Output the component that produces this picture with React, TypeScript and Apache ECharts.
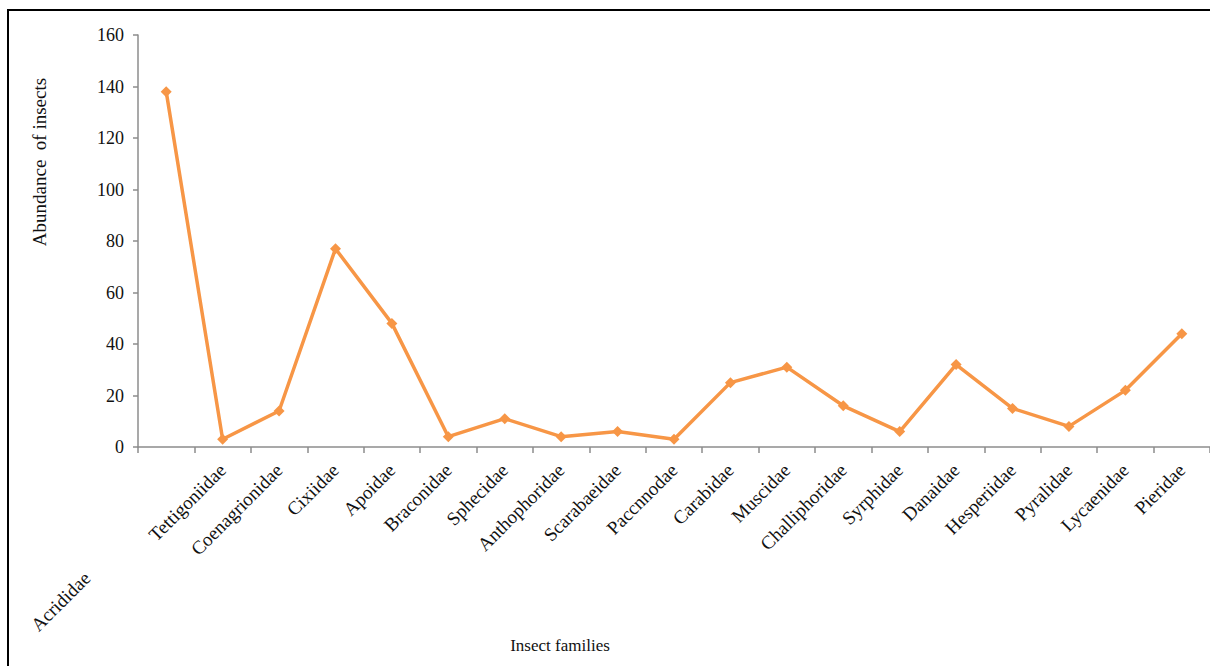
import React, { useEffect, useRef } from "react";
import * as echarts from "echarts";

const families = [
  "Acrididae",
  "Tettigoniidae",
  "Coenagrionidae",
  "Cixiidae",
  "Apoidae",
  "Braconidae",
  "Sphecidae",
  "Anthophoridae",
  "Scarabaeidae",
  "Paccnnodae",
  "Carabidae",
  "Muscidae",
  "Challiphoridae",
  "Syrphidae",
  "Danaidae",
  "Hesperiidae",
  "Pyralidae",
  "Lycaenidae",
  "Pieridae",
];

const abundance = [138, 3, 14, 77, 48, 4, 11, 4, 6, 3, 25, 31, 16, 6, 32, 15, 8, 22, 44];

const yTicks = { min: 0, max: 160, interval: 20 };

const FONT = "Liberation Serif";

export default function App() {
  const ref = useRef<HTMLDivElement>(null);

  useEffect(() => {
    if (!ref.current) return;
    const chart = echarts.init(ref.current, undefined, { renderer: "svg" });
    chart.setOption({
      animation: false,
      backgroundColor: "#ffffff",
      grid: { left: 138, top: 35, width: 1076, height: 412, containLabel: false },
      xAxis: {
        type: "category",
        data: families,
        boundaryGap: true,
        axisLine: { lineStyle: { color: "#8c8c8c", width: 1.5 } },
        axisTick: { show: true, length: 6, alignWithLabel: false, lineStyle: { color: "#8c8c8c", width: 1.5 } },
        axisLabel: {
          interval: 0,
          rotate: 45,
          margin: 20,
          fontFamily: FONT,
          fontSize: 19,
          color: "#111",
          formatter: (v: string, i: number) => (i === 0 ? "" : v),
        },
        splitLine: { show: false },
      },
      yAxis: {
        type: "value",
        min: yTicks.min,
        max: yTicks.max,
        interval: yTicks.interval,
        axisLine: { show: true, lineStyle: { color: "#8c8c8c", width: 1.5 } },
        axisTick: { show: true, length: 5, lineStyle: { color: "#8c8c8c", width: 1.5 } },
        axisLabel: { margin: 14, fontFamily: FONT, fontSize: 18, color: "#111" },
        splitLine: { show: false },
      },
      series: [
        {
          type: "line",
          data: abundance,
          symbol: "diamond",
          symbolSize: 11,
          lineStyle: { color: "#F79646", width: 3.5 },
          itemStyle: { color: "#F79646" },
        },
      ],
      graphic: [
        {
          type: "rect",
          shape: { x: 8, y: 10, width: 1400, height: 900 },
          style: { fill: "none", stroke: "#000", lineWidth: 2 },
          silent: true,
        },
        {
          type: "text",
          x: 39,
          y: 162,
          rotation: Math.PI / 2,
          style: {
            text: "Abundance  of insects",
            fontFamily: FONT,
            fontSize: 19,
            fill: "#111",
            align: "center",
            verticalAlign: "middle",
          },
        },
        {
          type: "text",
          x: 560,
          y: 645,
          style: {
            text: "Insect families",
            fontFamily: FONT,
            fontSize: 17,
            fill: "#111",
            align: "center",
            verticalAlign: "middle",
          },
        },
        {
          type: "text",
          x: 87,
          y: 575,
          rotation: Math.PI / 4,
          style: {
            text: families[0],
            fontFamily: FONT,
            fontSize: 19,
            fill: "#111",
            align: "right",
            verticalAlign: "middle",
          },
        },
      ],
    });
    return () => chart.dispose();
  }, []);

  return (
    <div
      ref={ref}
      style={{ position: "absolute", left: 0, top: 0, width: 1210, height: 666, overflow: "hidden" }}
    />
  );
}
